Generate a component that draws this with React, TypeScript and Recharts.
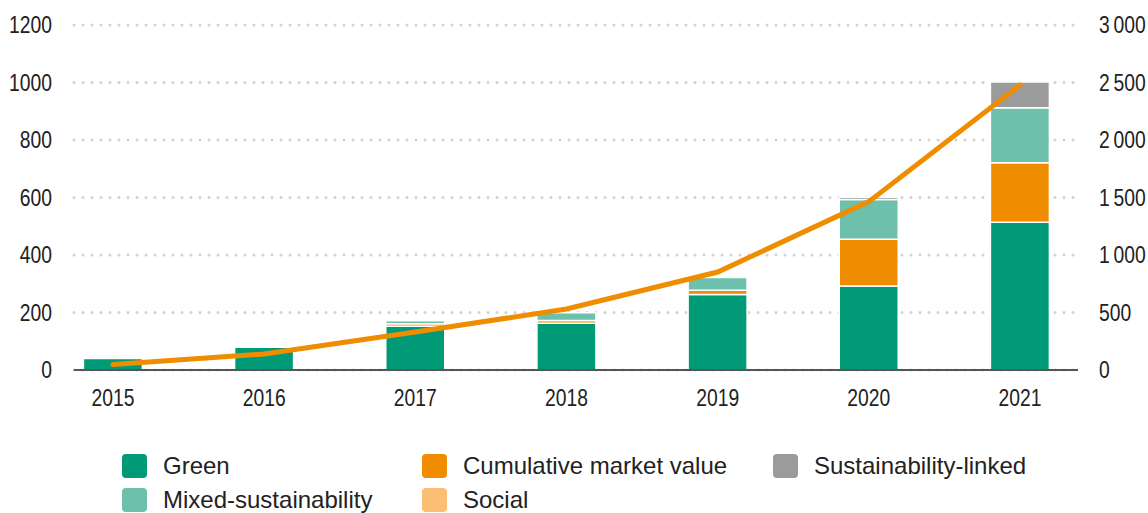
import {
  Bar,
  CartesianGrid,
  ComposedChart,
  Line,
  XAxis,
  YAxis,
} from "recharts";

const years = ["2015", "2016", "2017", "2018", "2019", "2020", "2021"];
const green = [40, 79, 152, 163, 263, 292, 514];
const social = [0, 0, 9, 9, 14, 163, 207];
const mixed = [0, 0, 10, 27, 45, 138, 191];
const linked = [0, 0, 0, 0, 0, 8, 90];
const cumulative = [48, 139, 330, 530, 852, 1464, 2478];

const leftTicks = [0, 200, 400, 600, 800, 1000, 1200];
const rightTicks = [0, 500, 1000, 1500, 2000, 2500, 3000];

const COLORS = {
  green: "#009A77",
  mixed: "#6CC0AC",
  orange: "#F08C00",
  social: "#FBBE73",
  linked: "#9B9B9B",
};

const legendItems = [
  { label: "Green", color: COLORS.green },
  { label: "Cumulative market value", color: COLORS.orange },
  { label: "Sustainability-linked", color: COLORS.linked },
  { label: "Mixed-sustainability", color: COLORS.mixed },
  { label: "Social", color: COLORS.social },
];

const data = years.map((year, i) => ({
  year,
  green: green[i],
  social: social[i],
  mixed: mixed[i],
  linked: linked[i],
  cumulative: cumulative[i],
}));

const FONT = "'Liberation Sans', Arial, sans-serif";
const SQUEEZE = 0.84;

// thousands with a thin space, like "2 500"
const fmtSpace = (v: number) => String(v).replace(/\B(?=(\d{3})+(?!\d))/g, "\u2009");

// narrow tick text: the reference uses a condensed face
function NarrowTick(props: any) {
  const { x, y, payload, anchor, dy, format } = props;
  const label = format ? format(payload.value) : payload.value;
  return (
    <g transform={`translate(${x},${y}) scale(${SQUEEZE},1)`}>
      <text x={0} y={0} dy={dy} textAnchor={anchor} fill="#222" fontSize={23} fontFamily={FONT}>
        {label}
      </text>
    </g>
  );
}

function Legend() {
  const cols = [122, 422, 773];
  return (
    <>
      {legendItems.map((item, i) => {
        const row = i < 3 ? 0 : 1;
        const col = i < 3 ? i : i - 3;
        return (
          <div
            key={item.label}
            style={{
              position: "absolute",
              left: cols[col],
              top: 454 + row * 34,
              display: "flex",
              alignItems: "center",
              height: 24,
            }}
          >
            <span
              style={{
                display: "inline-block",
                width: 25,
                height: 24,
                borderRadius: 4,
                background: item.color,
              }}
            />
            <span
              style={{
                marginLeft: 16,
                fontFamily: FONT,
                fontSize: 24,
                color: "#222",
                whiteSpace: "nowrap",
                lineHeight: "24px",
              }}
            >
              {item.label}
            </span>
          </div>
        );
      })}
    </>
  );
}

export default function App() {
  return (
    <div style={{ position: "absolute", left: 0, top: 0, width: 1148, height: 513, background: "#fff", overflow: "hidden" }}>
      <ComposedChart
        width={1148}
        height={420}
        data={data}
        margin={{ top: 25, right: 0, bottom: 0, left: 0 }}
      >
        <CartesianGrid
          yAxisId="left"
          vertical={false}
          stroke="#D2D2D2"
          strokeWidth={3}
          strokeDasharray="0 9"
          strokeLinecap="round"
        />
        <XAxis
          dataKey="year"
          scale="point"
          padding={{ left: 39, right: 58 }}
          axisLine={{ stroke: "#555", strokeWidth: 2 }}
          tickLine={false}
          tickSize={0}
          tickMargin={20}
          height={50}
          tick={<NarrowTick anchor="middle" dy="0.71em" />}
        />
        <YAxis
          yAxisId="left"
          orientation="left"
          domain={[0, 1200]}
          ticks={leftTicks}
          width={74}
          axisLine={false}
          tickLine={false}
          tickSize={0}
          tickMargin={22}
          tick={<NarrowTick anchor="end" dy="0.36em" />}
        />
        <YAxis
          yAxisId="right"
          orientation="right"
          domain={[0, 3000]}
          ticks={rightTicks}
          width={70}
          axisLine={false}
          tickLine={false}
          tickSize={0}
          tickMargin={21}
          tick={<NarrowTick anchor="start" dy="0.36em" format={fmtSpace} />}
        />
        <Bar yAxisId="left" dataKey="green" stackId="s" fill={COLORS.green} stroke="#fff" strokeWidth={1.5} barSize={59} isAnimationActive={false} />
        <Bar yAxisId="left" dataKey="social" stackId="s" fill={COLORS.orange} stroke="#fff" strokeWidth={1.5} barSize={59} isAnimationActive={false} />
        <Bar yAxisId="left" dataKey="mixed" stackId="s" fill={COLORS.mixed} stroke="#fff" strokeWidth={1.5} barSize={59} isAnimationActive={false} />
        <Bar yAxisId="left" dataKey="linked" stackId="s" fill={COLORS.linked} stroke="#fff" strokeWidth={1.5} barSize={59} isAnimationActive={false} />
        <Line
          yAxisId="right"
          dataKey="cumulative"
          type="linear"
          stroke={COLORS.orange}
          strokeWidth={5}
          dot={false}
          activeDot={false}
          strokeLinecap="round"
          isAnimationActive={false}
        />
      </ComposedChart>
      <Legend />
    </div>
  );
}
